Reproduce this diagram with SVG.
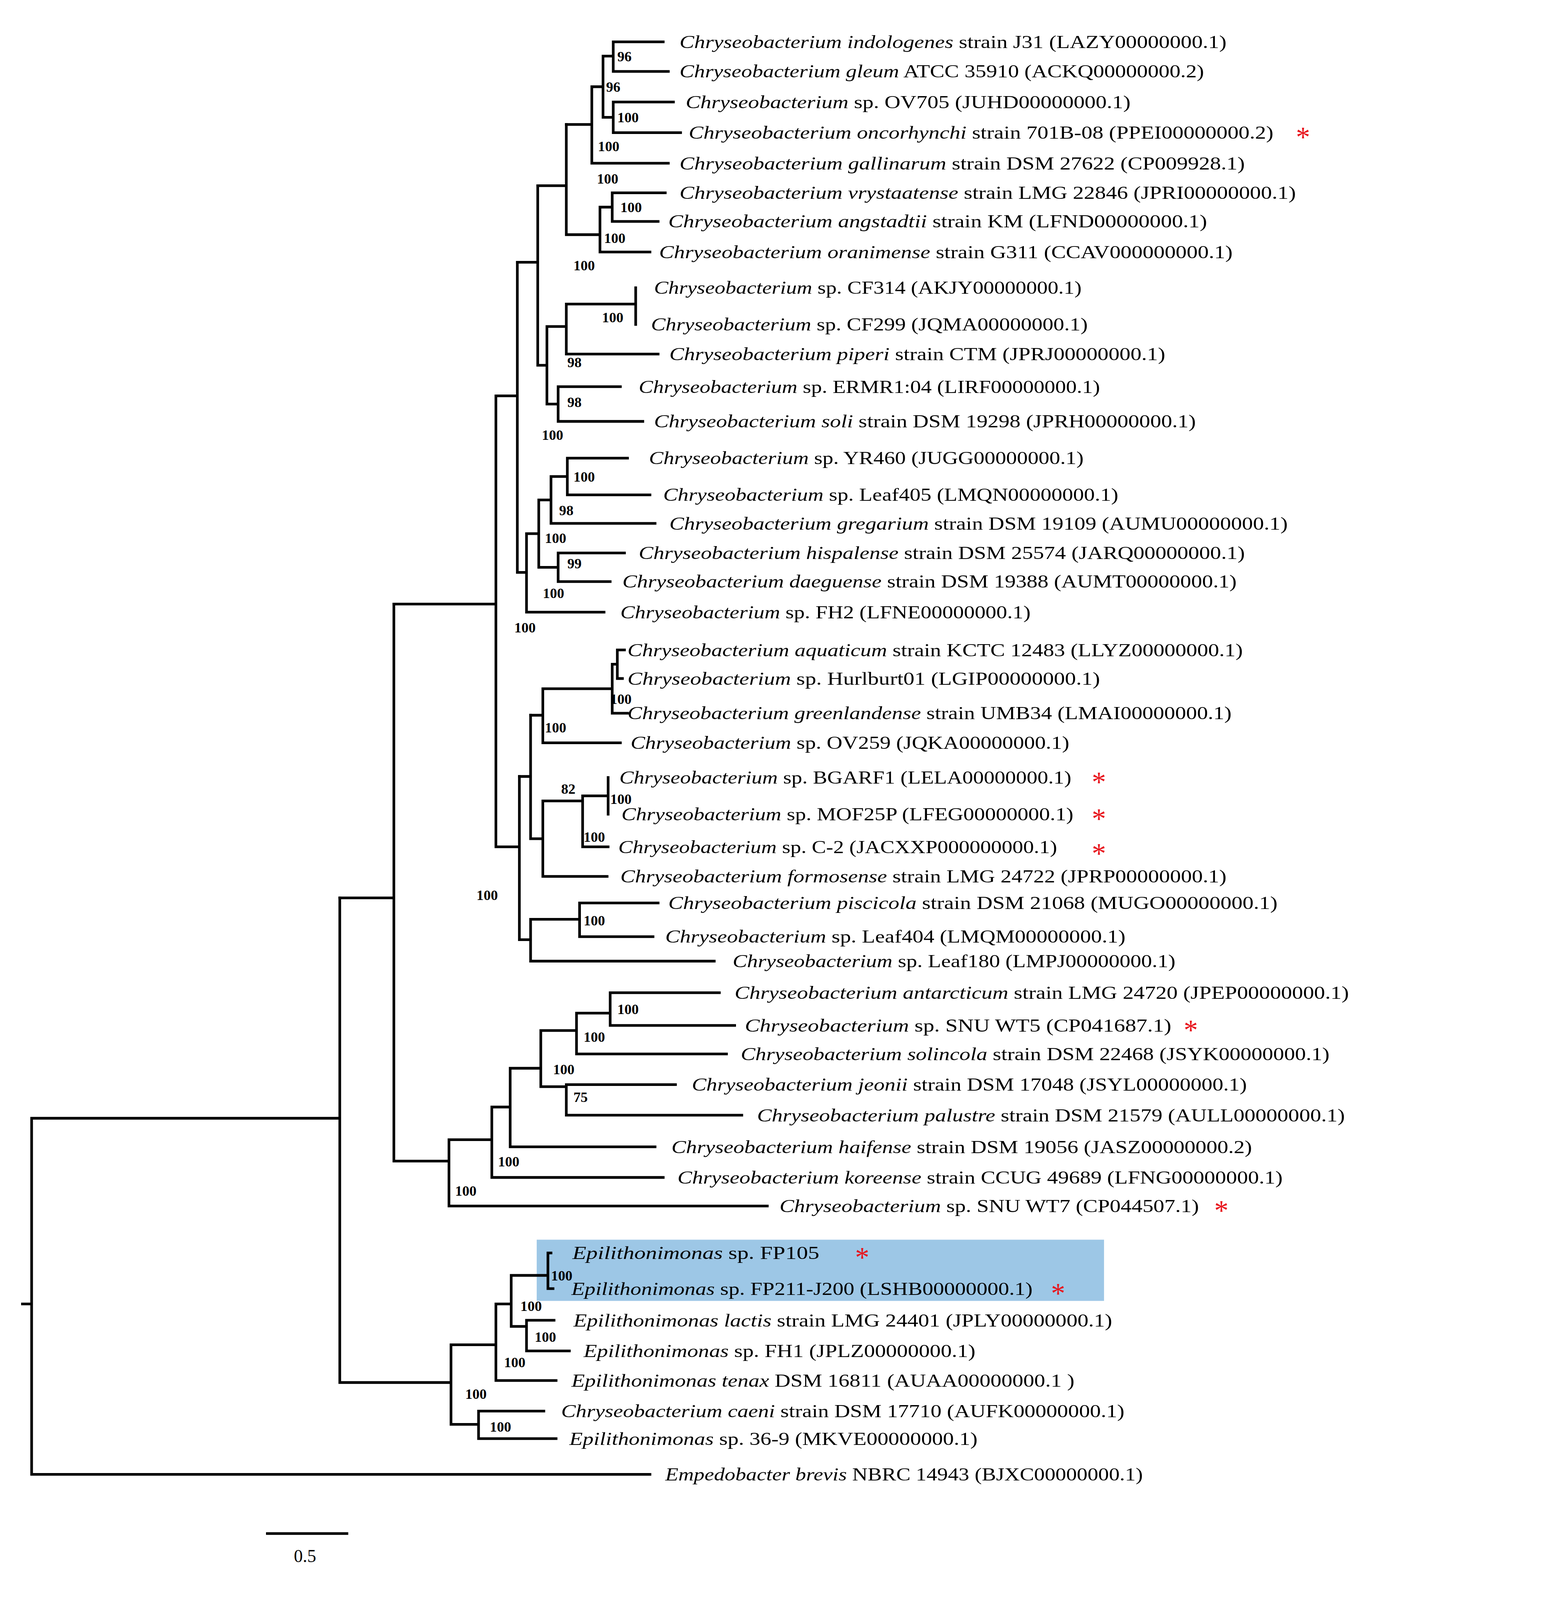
<svg xmlns="http://www.w3.org/2000/svg" width="3955" height="4389" viewBox="0 0 3955 4389">
<style>
.e{stroke:#000;stroke-width:2.6;fill:none;stroke-linecap:square}
.t{font-family:"Liberation Serif",serif;font-size:17.5px;fill:#000}
.i{font-style:italic}
.b{font-family:"Liberation Serif",serif;font-size:14px;font-weight:bold;fill:#000}
.s{font-family:"Liberation Serif",serif;font-size:28px;fill:#e8141c}
</style>
<rect width="3955" height="4389" fill="#fff"/>
<g transform="scale(2.612)">
<rect id="highlight" x="526" y="1215" width="556" height="60" fill="#9dc7e6"/>
<g id="connectors" class="e">
<path d="M650 41H601V70H655M591 55H601M660 100H601V130H667M591 115H601M591 55V115M580 85H591M580 85V160H655M555 122H580"/>
<path d="M652 189H600V217H645M588 203H600M588 203V247H637M555 230H588M555 122V230M527 182H555"/>
<path d="M623 282V318M555 298H623M555 298V347H645M536 320H555M608 379H547V413H630M536 396H547M536 320V396M527 358H536M527 182V358M507 257H527"/>
<path d="M615 449H556V485H637M540 467H556M540 467V513H642M528 490H540M612 542H547V570H598M528 556H547M528 490V556M516 523H528M516 523V600H592M507 561H516M507 257V561M486 388H507"/>
<path d="M612 637H605V665H610M600 651H605M600 651V699H615M532 675H600M532 675V728H608M520 701H532"/>
<path d="M596 762V798M571 780H596M571 780V830H596M532 785H571M532 785V859H595M520 822H532M520 701V822M509 761H520"/>
<path d="M645 885H568V918H640M520 901H568M520 901V942H700M509 921H520M509 761V921M486 830H509M486 388V830M386 592H486"/>
<path d="M705 973H598V1005H720M565 993H598M565 993V1033H712M530 1010H565M662 1063H555V1093H727M530 1065H555M530 1010V1065M500 1047H530M500 1047V1124H642M482 1085H500M482 1085V1154H650M440 1117H482M440 1117V1182H752M386 1138H440M386 592V1138M333 880H386"/>
<path d="M540 1228H537V1263H542M501 1250H537M543 1294H516V1324H558M501 1300H516M501 1250V1300M486 1278H501M486 1278V1353H545M442 1318H486M533 1383H469V1410H545M442 1396H469M442 1318V1396M333 1355H442M333 880V1355M31 1096H333M31 1096V1445H637M22 1278H31"/>
<path d="M262 1503H340"/>
</g>
<g id="labels">
<text class="t" x="666" y="47" textLength="536" lengthAdjust="spacingAndGlyphs"><tspan class="i">Chryseobacterium indologenes</tspan> strain  J31 (LAZY00000000.1)</text>
<text class="t" x="666" y="76" textLength="514" lengthAdjust="spacingAndGlyphs"><tspan class="i">Chryseobacterium gleum</tspan> ATCC 35910 (ACKQ00000000.2)</text>
<text class="t" x="672" y="106" textLength="436" lengthAdjust="spacingAndGlyphs"><tspan class="i">Chryseobacterium</tspan> sp. OV705  (JUHD00000000.1)</text>
<text class="t" x="675" y="136" textLength="573" lengthAdjust="spacingAndGlyphs"><tspan class="i">Chryseobacterium oncorhynchi</tspan> strain  701B-08 (PPEI00000000.2)</text>
<text class="t" x="666" y="166" textLength="554" lengthAdjust="spacingAndGlyphs"><tspan class="i">Chryseobacterium gallinarum</tspan> strain DSM 27622 (CP009928.1)</text>
<text class="t" x="666" y="195" textLength="604" lengthAdjust="spacingAndGlyphs"><tspan class="i">Chryseobacterium vrystaatense</tspan> strain LMG 22846 (JPRI00000000.1)</text>
<text class="t" x="655" y="223" textLength="528" lengthAdjust="spacingAndGlyphs"><tspan class="i">Chryseobacterium angstadtii</tspan> strain KM (LFND00000000.1)</text>
<text class="t" x="646" y="253" textLength="562" lengthAdjust="spacingAndGlyphs"><tspan class="i">Chryseobacterium oranimense</tspan> strain G311 (CCAV000000000.1)</text>
<text class="t" x="641" y="288" textLength="419" lengthAdjust="spacingAndGlyphs"><tspan class="i">Chryseobacterium</tspan> sp. CF314 (AKJY00000000.1)</text>
<text class="t" x="638" y="324" textLength="428" lengthAdjust="spacingAndGlyphs"><tspan class="i">Chryseobacterium</tspan> sp. CF299 (JQMA00000000.1)</text>
<text class="t" x="656" y="353" textLength="486" lengthAdjust="spacingAndGlyphs"><tspan class="i">Chryseobacterium piperi</tspan> strain CTM (JPRJ00000000.1)</text>
<text class="t" x="626" y="385" textLength="452" lengthAdjust="spacingAndGlyphs"><tspan class="i">Chryseobacterium</tspan> sp. ERMR1:04 (LIRF00000000.1)</text>
<text class="t" x="641" y="419" textLength="531" lengthAdjust="spacingAndGlyphs"><tspan class="i">Chryseobacterium soli</tspan> strain DSM 19298 (JPRH00000000.1)</text>
<text class="t" x="636" y="455" textLength="426" lengthAdjust="spacingAndGlyphs"><tspan class="i">Chryseobacterium</tspan> sp. YR460 (JUGG00000000.1)</text>
<text class="t" x="650" y="491" textLength="446" lengthAdjust="spacingAndGlyphs"><tspan class="i">Chryseobacterium</tspan> sp. Leaf405 (LMQN00000000.1)</text>
<text class="t" x="656" y="519" textLength="606" lengthAdjust="spacingAndGlyphs"><tspan class="i">Chryseobacterium gregarium</tspan> strain DSM 19109 (AUMU00000000.1)</text>
<text class="t" x="626" y="548" textLength="594" lengthAdjust="spacingAndGlyphs"><tspan class="i">Chryseobacterium hispalense</tspan> strain DSM 25574 (JARQ00000000.1)</text>
<text class="t" x="610" y="576" textLength="602" lengthAdjust="spacingAndGlyphs"><tspan class="i">Chryseobacterium daeguense</tspan> strain DSM 19388 (AUMT00000000.1)</text>
<text class="t" x="608" y="606" textLength="402" lengthAdjust="spacingAndGlyphs"><tspan class="i">Chryseobacterium</tspan> sp. FH2 (LFNE00000000.1)</text>
<text class="t" x="615" y="643" textLength="603" lengthAdjust="spacingAndGlyphs"><tspan class="i">Chryseobacterium aquaticum</tspan> strain KCTC 12483 (LLYZ00000000.1)</text>
<text class="t" x="615" y="671" textLength="463" lengthAdjust="spacingAndGlyphs"><tspan class="i">Chryseobacterium</tspan> sp. Hurlburt01 (LGIP00000000.1)</text>
<text class="t" x="615" y="705" textLength="592" lengthAdjust="spacingAndGlyphs"><tspan class="i">Chryseobacterium greenlandense</tspan> strain UMB34 (LMAI00000000.1)</text>
<text class="t" x="618" y="734" textLength="430" lengthAdjust="spacingAndGlyphs"><tspan class="i">Chryseobacterium</tspan> sp. OV259 (JQKA00000000.1)</text>
<text class="t" x="607" y="768" textLength="443" lengthAdjust="spacingAndGlyphs"><tspan class="i">Chryseobacterium</tspan> sp. BGARF1 (LELA00000000.1)</text>
<text class="t" x="609" y="804" textLength="443" lengthAdjust="spacingAndGlyphs"><tspan class="i">Chryseobacterium</tspan> sp. MOF25P (LFEG00000000.1)</text>
<text class="t" x="606" y="836" textLength="430" lengthAdjust="spacingAndGlyphs"><tspan class="i">Chryseobacterium</tspan> sp. C-2 (JACXXP000000000.1)</text>
<text class="t" x="608" y="865" textLength="594" lengthAdjust="spacingAndGlyphs"><tspan class="i">Chryseobacterium formosense</tspan> strain LMG 24722 (JPRP00000000.1)</text>
<text class="t" x="655" y="891" textLength="597" lengthAdjust="spacingAndGlyphs"><tspan class="i">Chryseobacterium piscicola</tspan> strain DSM 21068 (MUGO00000000.1)</text>
<text class="t" x="652" y="924" textLength="451" lengthAdjust="spacingAndGlyphs"><tspan class="i">Chryseobacterium</tspan> sp. Leaf404 (LMQM00000000.1)</text>
<text class="t" x="718" y="948" textLength="434" lengthAdjust="spacingAndGlyphs"><tspan class="i">Chryseobacterium</tspan> sp. Leaf180 (LMPJ00000000.1)</text>
<text class="t" x="720" y="979" textLength="602" lengthAdjust="spacingAndGlyphs"><tspan class="i">Chryseobacterium antarcticum</tspan> strain LMG 24720 (JPEP00000000.1)</text>
<text class="t" x="730" y="1011" textLength="418" lengthAdjust="spacingAndGlyphs"><tspan class="i">Chryseobacterium</tspan> sp. SNU WT5 (CP041687.1)</text>
<text class="t" x="726" y="1039" textLength="577" lengthAdjust="spacingAndGlyphs"><tspan class="i">Chryseobacterium solincola</tspan> strain DSM 22468 (JSYK00000000.1)</text>
<text class="t" x="678" y="1069" textLength="544" lengthAdjust="spacingAndGlyphs"><tspan class="i">Chryseobacterium jeonii</tspan> strain DSM 17048 (JSYL00000000.1)</text>
<text class="t" x="742" y="1099" textLength="576" lengthAdjust="spacingAndGlyphs"><tspan class="i">Chryseobacterium palustre</tspan> strain DSM 21579 (AULL00000000.1)</text>
<text class="t" x="658" y="1130" textLength="569" lengthAdjust="spacingAndGlyphs"><tspan class="i">Chryseobacterium haifense</tspan> strain DSM 19056 (JASZ00000000.2)</text>
<text class="t" x="664" y="1160" textLength="593" lengthAdjust="spacingAndGlyphs"><tspan class="i">Chryseobacterium koreense</tspan> strain CCUG 49689 (LFNG00000000.1)</text>
<text class="t" x="764" y="1188" textLength="411" lengthAdjust="spacingAndGlyphs"><tspan class="i">Chryseobacterium</tspan> sp. SNU WT7 (CP044507.1)</text>
<text class="t" x="561" y="1234" textLength="242" lengthAdjust="spacingAndGlyphs"><tspan class="i">Epilithonimonas</tspan> sp. FP105</text>
<text class="t" x="560" y="1269" textLength="452" lengthAdjust="spacingAndGlyphs"><tspan class="i">Epilithonimonas</tspan> sp. FP211-J200 (LSHB00000000.1)</text>
<text class="t" x="562" y="1300" textLength="528" lengthAdjust="spacingAndGlyphs"><tspan class="i">Epilithonimonas lactis</tspan> strain LMG 24401 (JPLY00000000.1)</text>
<text class="t" x="572" y="1330" textLength="384" lengthAdjust="spacingAndGlyphs"><tspan class="i">Epilithonimonas</tspan> sp. FH1 (JPLZ00000000.1)</text>
<text class="t" x="560" y="1359" textLength="493" lengthAdjust="spacingAndGlyphs"><tspan class="i">Epilithonimonas tenax</tspan> DSM 16811 (AUAA00000000.1 )</text>
<text class="t" x="550" y="1389" textLength="552" lengthAdjust="spacingAndGlyphs"><tspan class="i">Chryseobacterium caeni</tspan> strain DSM 17710 (AUFK00000000.1)</text>
<text class="t" x="558" y="1416" textLength="400" lengthAdjust="spacingAndGlyphs"><tspan class="i">Epilithonimonas</tspan> sp. 36-9 (MKVE00000000.1)</text>
<text class="t" x="652" y="1451" textLength="468" lengthAdjust="spacingAndGlyphs"><tspan class="i">Empedobacter brevis</tspan> NBRC 14943 (BJXC00000000.1)</text>
<text class="t" x="288" y="1531">0.5</text>
</g>
<g id="bootstrap">
<text class="b" x="605" y="60">96</text>
<text class="b" x="594" y="90">96</text>
<text class="b" x="605" y="120">100</text>
<text class="b" x="586" y="148">100</text>
<text class="b" x="585" y="180">100</text>
<text class="b" x="608" y="208">100</text>
<text class="b" x="592" y="238">100</text>
<text class="b" x="562" y="265">100</text>
<text class="b" x="590" y="316">100</text>
<text class="b" x="556" y="360">98</text>
<text class="b" x="556" y="399">98</text>
<text class="b" x="531" y="431">100</text>
<text class="b" x="562" y="472">100</text>
<text class="b" x="548" y="505">98</text>
<text class="b" x="534" y="532">100</text>
<text class="b" x="556" y="557">99</text>
<text class="b" x="532" y="586">100</text>
<text class="b" x="504" y="620">100</text>
<text class="b" x="598" y="690">100</text>
<text class="b" x="534" y="718">100</text>
<text class="b" x="550" y="778">82</text>
<text class="b" x="598" y="788">100</text>
<text class="b" x="572" y="825">100</text>
<text class="b" x="467" y="882">100</text>
<text class="b" x="572" y="907">100</text>
<text class="b" x="605" y="994">100</text>
<text class="b" x="572" y="1021">100</text>
<text class="b" x="542" y="1053">100</text>
<text class="b" x="562" y="1080">75</text>
<text class="b" x="488" y="1143">100</text>
<text class="b" x="446" y="1172">100</text>
<text class="b" x="540" y="1255">100</text>
<text class="b" x="510" y="1285">100</text>
<text class="b" x="524" y="1315">100</text>
<text class="b" x="494" y="1340">100</text>
<text class="b" x="456" y="1371">100</text>
<text class="b" x="480" y="1403">100</text>
</g>
<g id="markers">
<text class="s" x="1270" y="144">*</text>
<text class="s" x="1070" y="776">*</text>
<text class="s" x="1070" y="812">*</text>
<text class="s" x="1070" y="846">*</text>
<text class="s" x="1160" y="1019">*</text>
<text class="s" x="1190" y="1196">*</text>
<text class="s" x="838" y="1242">*</text>
<text class="s" x="1030" y="1277">*</text>
</g>
</g>
</svg>
